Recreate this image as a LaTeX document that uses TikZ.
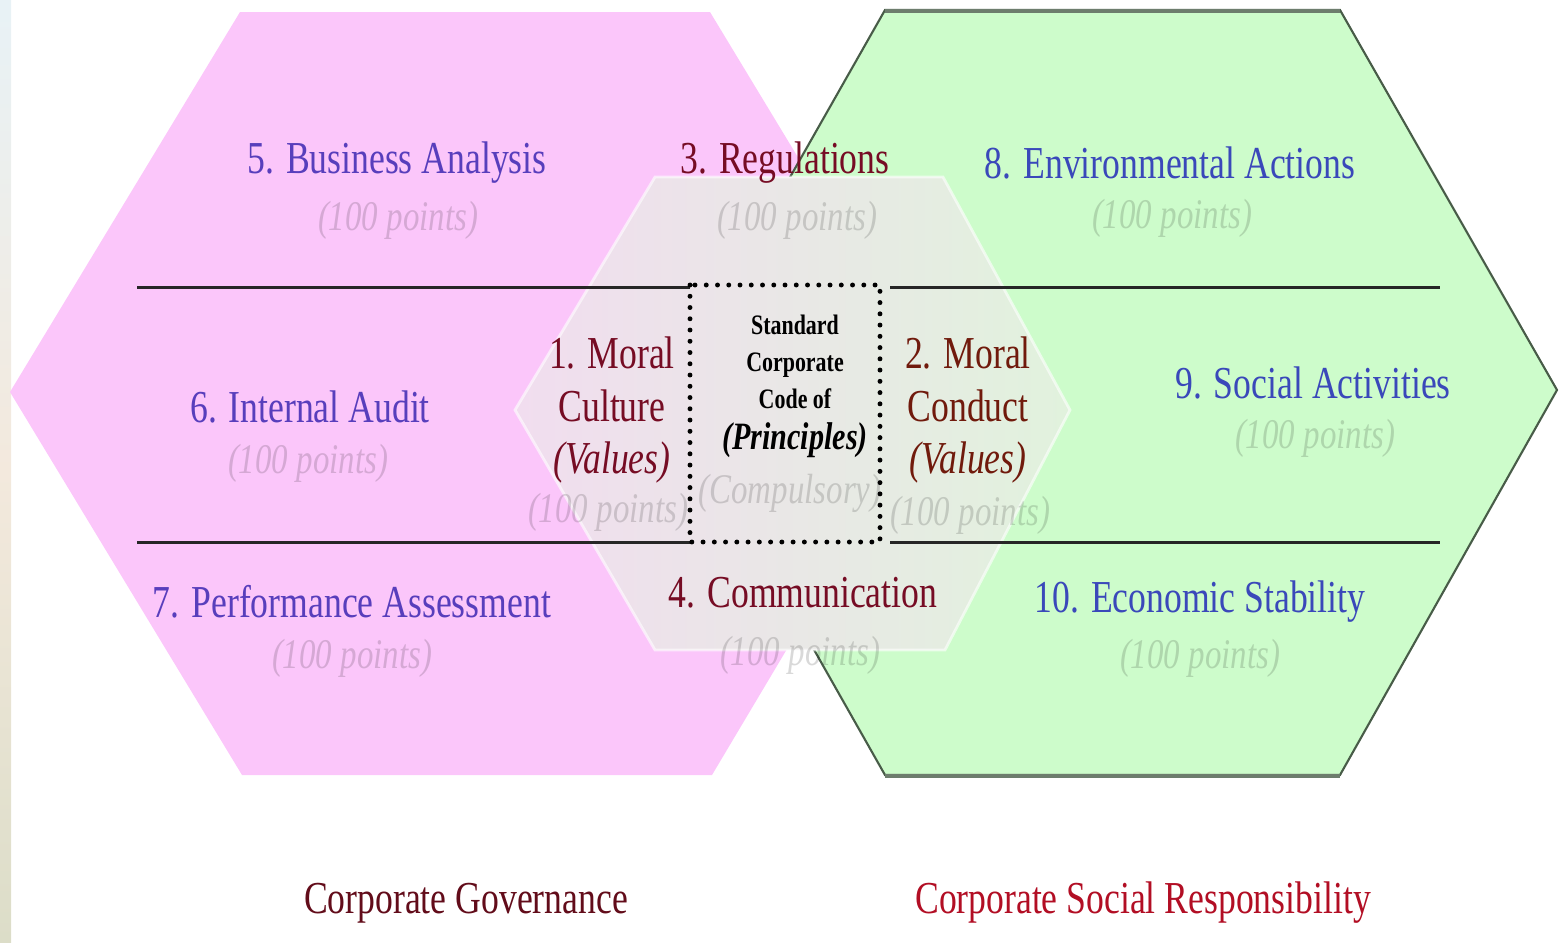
\documentclass[tikz,border=0pt]{standalone}
\usepackage{fontspec}
\setmainfont[FakeStretch=0.78]{Liberation Serif}
\usetikzlibrary{positioning}
\definecolor{CG-PINK}{RGB}{251,198,250}
\definecolor{CSR-GREEN}{RGB}{205,252,203}
\definecolor{CSR-EDGE}{RGB}{72,92,72}
\definecolor{CORE-PINK}{RGB}{241,221,239}
\definecolor{CORE-GRAY}{RGB}{233,230,232}
\definecolor{CORE-GREEN}{RGB}{225,242,221}
\definecolor{HEAD-PURPLE}{RGB}{88,62,188}
\definecolor{HEAD-BLUE}{RGB}{58,72,186}
\definecolor{HEAD-RED}{RGB}{118,12,36}
\definecolor{HEAD-BROWN}{RGB}{112,26,12}
\definecolor{CG-RED}{RGB}{98,12,26}
\definecolor{CSR-RED}{RGB}{178,14,36}
\definecolor{SLIDE-TOP}{RGB}{232,242,246}
\definecolor{SLIDE-MID}{RGB}{243,233,221}
\definecolor{SLIDE-BOT}{RGB}{220,221,200}

\begin{document}
\begin{tikzpicture}[x=0.01cm, y=-0.01cm,
  head/.style={font=\fontsize{13}{15}\selectfont, align=center},
  pts/.style={font=\fontsize{12}{14}\selectfont\itshape, text=black, text opacity=0.15},
  rule/.style={black!85, line width=0.85pt}]
  \useasboundingbox (0,0) rectangle (1560,942);

  % slide edge on the left
  \shade[top color=SLIDE-TOP, bottom color=SLIDE-BOT, middle color=SLIDE-MID] (0,0) rectangle (11,942);

  % Corporate governance (pink hexagon)
  \fill[CG-PINK] (240,12) -- (710,12) -- (940,392) -- (712,775) -- (242,775) -- (10,392) -- cycle;

  % Corporate social responsibility (green hexagon)
  \fill[CSR-GREEN, draw=CSR-EDGE, line width=0.6pt]
    (885,10) -- (1340,10) -- (1557,390) -- (1340,775) -- (885,775) -- (668,392) -- cycle;
  \draw[CSR-EDGE!80, line width=1.3pt] (885,11) -- (1340,11);
  \draw[CSR-EDGE!80, line width=1.3pt] (885,776) -- (1340,776);

  % shared core hexagon
  \shade[left color=CORE-PINK, middle color=CORE-GRAY, right color=CORE-GREEN]
    (655,177) -- (943,177) -- (1070,410) -- (945,650) -- (655,650) -- (515,410) -- cycle;
  \draw[white, draw opacity=0.6, line width=0.8pt]
    (655,177) -- (943,177) -- (1070,410) -- (945,650) -- (655,650) -- (515,410) -- cycle;

  % row lines
  \draw[rule] (137,287) -- (690,287);
  \draw[rule] (890,287) -- (1440,287);
  \draw[rule] (137,542) -- (690,542);
  \draw[rule] (890,542) -- (1440,542);

  % code of principles box
  \draw[line width=1.4pt, line cap=round, dash pattern=on 0pt off 3.2pt]
    (690,285) rectangle (880,542);

  % top row
  \node[head, HEAD-PURPLE] (analysis) at (397,163) {5. Business Analysis};
  \node[pts] (analysispts) at (398,220) {(100 points)};
  \node[head, HEAD-RED] (regul) at (785,163) {3. Regulations};
  \node[pts] (regulpts) at (797,220) {(100 points)};
  \node[head, HEAD-BLUE] (environ) at (1170,163) {8. Environmental Actions};
  \node[pts] (environpts) at (1172,218) {(100 points)};

  % middle row
  \node[head, HEAD-PURPLE] (audit) at (310,407) {6. Internal Audit};
  \node[pts] (auditpts) at (308,463) {(100 points)};
  \node[head, HEAD-RED] (culture) at (612,410) {1. Moral\\Culture\\\textit{(Values)}};
  \node[pts] (culturepts) at (608,512) {(100 points)};
  \node[font=\fontsize{8}{10.5}\selectfont\bfseries, align=center] (code) at (795,362)
    {Standard\\Corporate\\Code of};
  \node[font=\fontsize{11}{13}\selectfont\bfseries\itshape] (princ) at (795,440) {(Principles)};
  \node[pts] (compuls) at (790,493) {(Compulsory)};
  \node[head, HEAD-BROWN] (conduct) at (968,410) {2. Moral\\Conduct\\\textit{(Values)}};
  \node[pts] (conductpts) at (970,515) {(100 points)};
  \node[head, HEAD-BLUE] (social) at (1313,383) {9. Social Activities};
  \node[pts] (socialpts) at (1315,438) {(100 points)};

  % bottom row
  \node[head, HEAD-PURPLE] (perform) at (352,602) {7. Performance Assessment};
  \node[pts] (performpts) at (352,658) {(100 points)};
  \node[head, HEAD-RED] (commun) at (803,593) {4. Communication};
  \node[pts] (communpts) at (800,655) {(100 points)};
  \node[head, HEAD-BLUE] (economy) at (1200,602) {10. Economic Stability};
  \node[pts] (economypts) at (1200,658) {(100 points)};

  % captions
  \node[head, CG-RED] (cg) at (466,903) {Corporate Governance};
  \node[head, CSR-RED] (csr) at (1143,903) {Corporate Social Responsibility};
\end{tikzpicture}
\end{document}
